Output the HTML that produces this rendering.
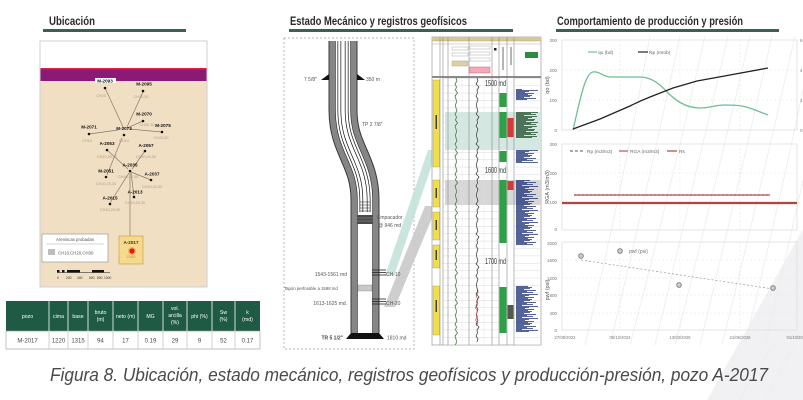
<!DOCTYPE html>
<html><head><meta charset="utf-8">
<style>
html,body{margin:0;padding:0;background:#fff;}
svg{display:block;font-family:"Liberation Sans",Arial,sans-serif;}
</style></head>
<body>
<svg width="803" height="400" viewBox="0 0 803 400" xmlns="http://www.w3.org/2000/svg">
<defs>
  <pattern id="spB" x="516" y="0" width="24" height="12" patternUnits="userSpaceOnUse">
    <path d="M0,0.5h14M0,1.5h8M0,2.5h20M0,3.5h11M0,4.5h17M0,5.5h6M0,6.5h22M0,7.5h13M0,8.5h9M0,9.5h18M0,10.5h12M0,11.5h16" stroke="#1d2f7a" stroke-width="0.7"/>
  </pattern>
  <pattern id="spG" x="516" y="0" width="24" height="10" patternUnits="userSpaceOnUse">
    <path d="M0,0.5h18M0,1.5h10M0,2.5h22M0,3.5h15M0,4.5h20M0,5.5h8M0,6.5h21M0,7.5h16M0,8.5h12M0,9.5h19" stroke="#1f4d2a" stroke-width="0.7"/>
  </pattern>
  <pattern id="grid" x="0" y="78" width="10" height="7.4" patternUnits="userSpaceOnUse">
    <line x1="0" y1="0.3" x2="10" y2="0.3" stroke="#d9d9d9" stroke-width="0.5"/>
  </pattern>
</defs>

<rect width="803" height="400" fill="#fff"/>

<!-- background decoration -->
<polygon points="707,400 803,400 803,229" fill="#f1f1f4"/>
<g stroke="#ececec" stroke-width="0.8" fill="none">
  <path d="M585,345 Q620,200 650,36"/>
  <path d="M610,345 Q645,200 680,36"/>
  <path d="M630,345 Q668,200 705,36"/>
  <path d="M655,345 Q690,200 728,36"/>
  <path d="M675,345 Q712,200 750,36"/>
  <path d="M700,345 Q735,200 772,36"/>
  <path d="M722,345 Q758,200 795,36"/>
  <path d="M745,345 Q780,200 803,90"/>
  <path d="M765,345 Q790,240 803,180"/>
  <path d="M740,400 Q760,360 775,345"/>
  <path d="M765,400 Q785,360 795,345"/>
</g>

<!-- ============ LEFT: Ubicación ============ -->
<text x="49" y="25" font-size="12" font-weight="bold" fill="#2a2a2a" textLength="46" lengthAdjust="spacingAndGlyphs">Ubicación</text>
<rect x="43" y="29" width="143" height="3" fill="#3a5f55"/>

<rect x="40" y="41" width="167" height="246" fill="#fff" stroke="#c4c4c4" stroke-width="0.8"/>
<rect x="40.5" y="68" width="166" height="1.5" fill="#d8244a"/>
<rect x="40.5" y="69.5" width="166" height="11.5" fill="#8a1a74"/>
<rect x="40.5" y="81" width="166" height="205.5" fill="#f1dfc4"/>

<!-- map lines -->
<g stroke="#857b6c" stroke-width="0.7" fill="none">
  <line x1="105" y1="88" x2="124" y2="129"/>
  <line x1="143" y1="92" x2="127" y2="127"/>
  <line x1="143" y1="121" x2="127" y2="128"/>
  <line x1="162" y1="132" x2="129" y2="129"/>
  <line x1="89" y1="134" x2="118" y2="130"/>
  <line x1="122" y1="138" x2="107" y2="175"/>
  <line x1="107" y1="150" x2="128" y2="169"/>
  <line x1="145" y1="151" x2="132" y2="169"/>
  <line x1="131" y1="172" x2="151" y2="180"/>
  <line x1="129" y1="173" x2="110" y2="203"/>
  <line x1="131" y1="173" x2="134" y2="196"/>
  <line x1="130" y1="172" x2="130" y2="236"/>
</g>
<g fill="#111">
  <circle cx="105" cy="88" r="1.3"/><circle cx="143" cy="91" r="1.3"/>
  <circle cx="143" cy="121" r="1.3"/><circle cx="162" cy="132" r="1.3"/>
  <circle cx="89" cy="134" r="1.3"/><circle cx="124" cy="135" r="1.3"/>
  <circle cx="107" cy="150" r="1.3"/><circle cx="145" cy="151" r="1.3"/>
  <circle cx="130" cy="171" r="1.3"/><circle cx="106" cy="177" r="1.3"/>
  <circle cx="151" cy="180" r="1.3"/><circle cx="134" cy="197" r="1.3"/>
  <circle cx="110" cy="204" r="1.3"/>
</g>
<g font-size="4.6" font-weight="bold" fill="#111" text-anchor="middle">
  <rect x="95" y="78" width="21" height="5" fill="#fff"/>
  <text x="105" y="82.5">M-2093</text>
  <text x="144" y="85.5">M-2095</text>
  <text x="144" y="115.5">M-2070</text>
  <text x="163" y="127">M-2075</text>
  <text x="89" y="128.5">M-2071</text>
  <text x="124" y="130">M-2073</text>
  <text x="107" y="145">A-2053</text>
  <text x="146" y="147">A-2057</text>
  <text x="130" y="166.5">A-2035</text>
  <text x="106" y="172.5">M-2051</text>
  <text x="152" y="175.5">A-2037</text>
  <text x="135" y="193.5">A-2013</text>
  <text x="110" y="199.5">A-2015</text>
</g>
<g font-size="3.8" fill="#a59a8c" text-anchor="middle">
  <text x="101" y="97">CH20</text>
  <text x="141" y="98">CH20,30</text>
  <text x="147" y="126">CH20,30</text>
  <text x="161" y="139">CH20,30</text>
  <text x="87" y="142">CH10</text>
  <text x="124" y="142">CH10</text>
  <text x="107" y="158">CH10,20,30</text>
  <text x="146" y="158">CH10,20,30</text>
  <text x="128" y="178">CH10,20,30</text>
  <text x="106" y="185">CH10,20,30</text>
  <text x="152" y="188">CH10,20,30</text>
  <text x="135" y="204">CH10,20,30</text>
  <text x="110" y="211">CH10,20,30</text>
</g>

<!-- legend box -->
<rect x="42" y="234" width="66" height="28" fill="#fff" stroke="#9a9a9a" stroke-width="0.7"/>
<text x="75" y="241" font-size="4.3" fill="#555" text-anchor="middle">Areniscas probadas</text>
<line x1="46" y1="244" x2="104" y2="244" stroke="#aaa" stroke-width="0.5"/>
<rect x="48" y="249" width="7" height="6" fill="#bdbdbd"/>
<text x="58" y="254.5" font-size="4.3" fill="#555">CH10,CH20,CH30</text>

<!-- A-2017 box -->
<rect x="119" y="236" width="24" height="28" fill="#f5d98c" stroke="#c9a24a" stroke-width="0.7"/>
<text x="131" y="244" font-size="4.6" font-weight="bold" fill="#333" text-anchor="middle">A-2017</text>
<circle cx="132" cy="251" r="4" fill="#f39a3a" opacity="0.6"/>
<circle cx="132" cy="251" r="2.6" fill="#e01818"/>
<text x="131" y="258" font-size="3.4" fill="#b08a40" text-anchor="middle">CH20</text>

<!-- scale bar -->
<g fill="#111">
  <rect x="57" y="270" width="2.5" height="2.5"/>
  <rect x="62" y="270" width="2.5" height="2.5"/>
  <rect x="67" y="270" width="13" height="2.5"/>
  <rect x="92" y="270" width="12" height="2.5"/>
</g>
<line x1="57" y1="272.5" x2="110" y2="272.5" stroke="#111" stroke-width="0.5"/>
<g font-size="3.3" fill="#333">
  <text x="57" y="279">0</text><text x="66" y="279">200</text><text x="77" y="279">400</text>
  <text x="89" y="279">600</text><text x="97" y="279">800</text><text x="104" y="279">1000</text>
</g>

<!-- table -->
<rect x="6" y="301" width="254" height="30" fill="#1e5a44"/>
<rect x="6" y="331" width="254" height="18" fill="#fff" stroke="#9a9a9a" stroke-width="0.6"/>
<g stroke="#ffffff" stroke-width="0.8">
  <line x1="49" y1="301" x2="49" y2="331"/><line x1="68" y1="301" x2="68" y2="331"/>
  <line x1="88" y1="301" x2="88" y2="331"/><line x1="113" y1="301" x2="113" y2="331"/>
  <line x1="138" y1="301" x2="138" y2="331"/><line x1="163" y1="301" x2="163" y2="331"/>
  <line x1="187" y1="301" x2="187" y2="331"/><line x1="212" y1="301" x2="212" y2="331"/>
  <line x1="235" y1="301" x2="235" y2="331"/>
</g>
<g stroke="#b5b5b5" stroke-width="0.6">
  <line x1="49" y1="331" x2="49" y2="349"/><line x1="68" y1="331" x2="68" y2="349"/>
  <line x1="88" y1="331" x2="88" y2="349"/><line x1="113" y1="331" x2="113" y2="349"/>
  <line x1="138" y1="331" x2="138" y2="349"/><line x1="163" y1="331" x2="163" y2="349"/>
  <line x1="187" y1="331" x2="187" y2="349"/><line x1="212" y1="331" x2="212" y2="349"/>
  <line x1="235" y1="331" x2="235" y2="349"/>
</g>
<g font-size="5.2" fill="#fff" text-anchor="middle">
  <text x="27.5" y="318">pozo</text>
  <text x="58.5" y="318">cima</text>
  <text x="78" y="318">base</text>
  <text x="100.5" y="314">bruto</text><text x="100.5" y="321">(m)</text>
  <text x="125.5" y="318">neto (m)</text>
  <text x="150.5" y="318">MG</text>
  <text x="175" y="310">vol.</text><text x="175" y="317">arcilla</text><text x="175" y="324">(%)</text>
  <text x="199.5" y="318">phi (%)</text>
  <text x="223.5" y="314">Sw</text><text x="223.5" y="321">(%)</text>
  <text x="247.5" y="314">k</text><text x="247.5" y="321">(md)</text>
</g>
<g font-size="6" fill="#444" text-anchor="middle">
  <text x="27.5" y="342.5">M-2017</text>
  <text x="58.5" y="342.5">1220</text>
  <text x="78" y="342.5">1315</text>
  <text x="100.5" y="342.5">94</text>
  <text x="125.5" y="342.5">17</text>
  <text x="150.5" y="342.5">0.19</text>
  <text x="175" y="342.5">29</text>
  <text x="199.5" y="342.5">9</text>
  <text x="223.5" y="342.5">52</text>
  <text x="247.5" y="342.5">0.17</text>
</g>

<!-- ============ MIDDLE: Estado mecánico ============ -->
<text x="290" y="25" font-size="12" font-weight="bold" fill="#2a2a2a" textLength="177" lengthAdjust="spacingAndGlyphs">Estado Mecánico y registros geofísicos</text>
<rect x="289" y="29" width="224" height="3" fill="#3a5f55"/>

<rect x="284" y="38" width="130" height="311" fill="#fff" stroke="#9a9a9a" stroke-width="0.7" stroke-dasharray="2,2"/>

<!-- connectors -->
<polygon points="385,276 394,276 437,150 428,150" fill="#bfe0d7" opacity="0.85"/>
<polygon points="384,307 395,307 437,206 425,206" fill="#c9c9c9" opacity="0.9"/>

<!-- casing -->
<g fill="none" stroke-linecap="butt">
  <path d="M343,41 L343,110 C343,150 365,160 365,200 L365,333" stroke="#3a3a3a" stroke-width="29"/>
  <path d="M343,41 L343,110 C343,150 365,160 365,200 L365,333" stroke="#868686" stroke-width="27"/>
  <path d="M343,41 L343,110 C343,150 365,160 365,200 L365,333" stroke="#333" stroke-width="16"/>
  <path d="M343,41 L343,110 C343,150 365,160 365,200 L365,333" stroke="#fff" stroke-width="14.6"/>
  <!-- tubing -->
  <path d="M343,41 L343,110 C343,150 365,160 365,200 L365,212" stroke="#111" stroke-width="11"/>
  <path d="M343,41 L343,110 C343,150 365,160 365,200 L365,212" stroke="#fff" stroke-width="9.6"/>
  <path d="M343,41 L343,110 C343,150 365,160 365,200 L365,212" stroke="#111" stroke-width="5"/>
  <path d="M343,41 L343,110 C343,150 365,160 365,200 L365,212" stroke="#fff" stroke-width="3.6"/>
</g>
<g stroke="#222" stroke-width="0.5">
  <line x1="360" y1="202" x2="370" y2="202"/><line x1="360" y1="205" x2="370" y2="205"/>
  <line x1="360" y1="208" x2="370" y2="208"/><line x1="360" y1="211" x2="370" y2="211"/>
</g>
<!-- packer -->
<rect x="357" y="215" width="16" height="9" fill="#4a4a4a"/>
<g stroke="#999" stroke-width="0.5"><line x1="357" y1="218" x2="373" y2="218"/><line x1="357" y1="221" x2="373" y2="221"/></g>
<!-- tapon -->
<rect x="358" y="285" width="14" height="6" fill="#c9c9c9" stroke="#888" stroke-width="0.4"/>
<!-- perforations -->
<g stroke="#222" stroke-width="0.8">
  <line x1="372" y1="270" x2="386" y2="270"/><line x1="372" y1="272.5" x2="386" y2="272.5"/><line x1="372" y1="275" x2="386" y2="275"/>
  <line x1="372" y1="299" x2="386" y2="299"/><line x1="372" y1="301.5" x2="386" y2="301.5"/><line x1="372" y1="304" x2="386" y2="304"/>
</g>
<!-- shoes -->
<polygon points="329,74 329,80 321,80" fill="#111"/>
<polygon points="357,74 357,80 365,80" fill="#111"/>
<polygon points="351,333 379,333 384,339 346,339" fill="#111"/>

<g font-size="5" fill="#555">
  <text x="304" y="81">7 5/8"</text>
  <text x="366" y="81">350 m</text>
  <text x="362" y="126">TP 2 7/8"</text>
  <text x="377" y="219">Empacador</text>
  <text x="378" y="227">@ 946 md</text>
  <text x="347" y="276" text-anchor="end">1543-1561 md</text>
  <text x="386" y="276">CH-10</text>
  <text x="284" y="290" font-size="4.3">Tapón perforable a 1598 md</text>
  <text x="347" y="305" text-anchor="end">1613-1625 md.</text>
  <text x="386" y="305">CH-20</text>
  <text x="343" y="339.5" text-anchor="end" font-weight="bold" fill="#444">TR 5 1/2"</text>
  <text x="387" y="339.5">1810 md</text>
</g>

<!-- ============ LOG PANEL ============ -->
<rect x="432" y="37" width="109" height="308" fill="#fff" stroke="#9a9a9a" stroke-width="0.7"/>
<rect x="432" y="37" width="109" height="4" fill="#d8c88e"/>
<rect x="443" y="78" width="56" height="267" fill="url(#grid)"/>
<rect x="514" y="78" width="27" height="267" fill="url(#grid)"/>
<!-- shaded zones -->
<rect x="445" y="112" width="96" height="38" fill="#cfe5de" opacity="0.9"/>
<rect x="445" y="180" width="96" height="25" fill="#d3d3d3" opacity="0.9"/>
<!-- header -->
<g stroke="#9a9a9a" stroke-width="0.4" fill="none">
  <line x1="432" y1="41" x2="541" y2="41"/><line x1="432" y1="44" x2="541" y2="44"/>
  <rect x="452" y="47" width="16" height="3"/><rect x="452" y="53" width="16" height="3"/>
  <rect x="470" y="46" width="20" height="3"/><rect x="470" y="52" width="20" height="3"/><rect x="470" y="58" width="20" height="3"/>
</g>
<rect x="452" y="61" width="16" height="5" fill="#ddd0a6" stroke="#a59872" stroke-width="0.4"/>
<rect x="469" y="67" width="21" height="6" fill="#f2aab9" stroke="#d0445e" stroke-width="0.4"/>
<rect x="525" y="52" width="13" height="6" fill="#2e8b3e"/>
<rect x="494" y="48" width="2.5" height="2.5" fill="#222"/>
<line x1="503" y1="47" x2="503" y2="70" stroke="#444" stroke-width="0.8"/>
<line x1="511" y1="47" x2="511" y2="65" stroke="#444" stroke-width="0.8"/>
<rect x="432" y="76" width="109" height="2" fill="#8a8a8a"/>
<!-- column separators -->
<g stroke="#8a8a8a" stroke-width="0.6">
  <line x1="440" y1="37" x2="440" y2="345"/><line x1="443" y1="37" x2="443" y2="345"/>
  <line x1="448" y1="37" x2="448" y2="345"/><line x1="469" y1="37" x2="469" y2="345"/>
  <line x1="492" y1="37" x2="492" y2="345"/><line x1="499" y1="37" x2="499" y2="345"/>
  <line x1="507" y1="37" x2="507" y2="345"/><line x1="514" y1="37" x2="514" y2="345"/>
</g>
<g stroke="#e2e2e2" stroke-width="0.4">
  <line x1="455" y1="78" x2="455" y2="345"/><line x1="462" y1="78" x2="462" y2="345"/>
  <line x1="476" y1="78" x2="476" y2="345"/><line x1="484" y1="78" x2="484" y2="345"/>
</g>
<!-- lithology track -->
<g fill="#f1de4a" stroke="#a89a30" stroke-width="0.4">
  <rect x="433" y="80" width="6.5" height="87"/>
  <rect x="433" y="180" width="6.5" height="27"/>
  <rect x="433" y="212" width="6.5" height="28"/>
  <rect x="433" y="245" width="6.5" height="23"/>
  <rect x="433" y="286" width="6.5" height="49"/>
</g>
<g fill="#444"><rect x="435.5" y="115" width="1.5" height="14"/><rect x="435.5" y="188" width="1.5" height="10"/>
<rect x="435.5" y="220" width="1.5" height="10"/><rect x="435.5" y="250" width="1.5" height="10"/><rect x="435.5" y="300" width="1.5" height="12"/></g>
<!-- curves -->
<path d="M456,78 l1,3 -2,3 1.5,3 -1,3 2,3 -2.5,3 1,3 0.5,3 -1,3 0.5,3 l1,3 -2,3 1.5,3 -1,3 2,3 -2.5,3 1,3 0.5,3 -1,3 0.5,3 l1,3 -2,3 1.5,3 -1,3 2,3 -2.5,3 1,3 0.5,3 -1,3 0.5,3 l1,3 -2,3 1.5,3 -1,3 2,3 -2.5,3 1,3 0.5,3 -1,3 0.5,3 l1,3 -2,3 1.5,3 -1,3 2,3 -2.5,3 1,3 0.5,3 -1,3 0.5,3 l1,3 -2,3 1.5,3 -1,3 2,3 -2.5,3 1,3 0.5,3 -1,3 0.5,3 l1,3 -2,3 1.5,3 -1,3 2,3 -2.5,3 1,3 0.5,3 -1,3 0.5,3 l1,3 -2,3 1.5,3 -1,3 2,3 -2.5,3 1,3 0.5,3 -1,3 0.5,3 l1,3 -2,3 1.5,3 -1,3 2,3 -2.5,3 1,3 0.5,3 -1,3" fill="none" stroke="#2c6e2c" stroke-width="0.7"/>
<path d="M477,78 l1,3 -2,3 3,3 -2,3 0.5,3 -1.5,3 2,3 -1,3 -0.5,3 0.5,3 l1,3 -2,3 3,3 -2,3 0.5,3 -1.5,3 2,3 -1,3 -0.5,3 0.5,3 l1,3 -2,3 3,3 -2,3 0.5,3 -1.5,3 2,3 -1,3 -0.5,3 0.5,3 l1,3 -2,3 3,3 -2,3 0.5,3 -1.5,3 2,3 -1,3 -0.5,3 0.5,3 l1,3 -2,3 3,3 -2,3 0.5,3 -1.5,3 2,3 -1,3 -0.5,3 0.5,3 l1,3 -2,3 3,3 -2,3 0.5,3 -1.5,3 2,3 -1,3 -0.5,3 0.5,3 l1,3 -2,3 3,3 -2,3 0.5,3 -1.5,3 2,3 -1,3 -0.5,3 0.5,3 l1,3 -2,3 3,3 -2,3 0.5,3 -1.5,3 2,3 -1,3 -0.5,3 0.5,3 l1,3 -2,3 3,3 -2,3 0.5,3 -1.5,3 2,3 -1,3" fill="none" stroke="#333" stroke-width="0.7"/>
<path d="M477,290 l1,3 -2,3 2,3 -1.5,3 1,3 -2,3 2,3 -1,3 1,3 -2,3 2,3 -1,3" fill="none" stroke="#c03030" stroke-width="0.6"/>
<!-- perforation track -->
<g fill="#2ea046">
  <rect x="499.5" y="93" width="7" height="14"/>
  <rect x="499.5" y="112" width="7" height="26"/>
  <rect x="499.5" y="151" width="7" height="11"/>
  <rect x="499.5" y="180" width="7" height="63"/>
  <rect x="499.5" y="287" width="7" height="46"/>
</g>
<g fill="#d23a3a">
  <rect x="507.5" y="118" width="6" height="19"/>
  <rect x="507.5" y="181" width="6" height="9"/>
</g>
<rect x="507.5" y="305" width="6" height="14" fill="#555"/>
<!-- spikes -->
<rect x="516" y="89" width="24" height="11" fill="url(#spB)"/>
<rect x="516" y="112" width="24" height="26" fill="url(#spG)"/>
<rect x="516" y="150" width="24" height="13" fill="url(#spB)"/>
<rect x="516" y="180" width="24" height="65" fill="url(#spB)"/>
<rect x="516" y="286" width="24" height="46" fill="url(#spB)"/>
<!-- depth labels -->
<g font-size="8" fill="#333">
  <text x="485" y="86" textLength="21" lengthAdjust="spacingAndGlyphs">1500 md</text>
  <text x="485" y="173" textLength="21" lengthAdjust="spacingAndGlyphs">1600 md</text>
  <text x="485" y="264" textLength="21" lengthAdjust="spacingAndGlyphs">1700 md</text>
</g>
<rect x="483" y="78" width="0" height="0"/>

<!-- ============ RIGHT: charts ============ -->
<text x="557" y="25" font-size="12" font-weight="bold" fill="#2a2a2a" textLength="186" lengthAdjust="spacingAndGlyphs">Comportamiento de producción y presión</text>
<rect x="556" y="29" width="223" height="3" fill="#3a5f55"/>

<!-- chart 1 -->
<rect x="562" y="40" width="235" height="90" fill="none" stroke="#dcdcdc" stroke-width="0.7"/>
<g stroke="#e6e6e6" stroke-width="0.6" stroke-dasharray="2,2">
  <line x1="562" y1="70" x2="797" y2="70"/><line x1="562" y1="100" x2="797" y2="100"/>
  <line x1="620" y1="40" x2="620" y2="130"/><line x1="680" y1="40" x2="680" y2="130"/><line x1="740" y1="40" x2="740" y2="130"/>
</g>
<g font-size="4.5" fill="#777" text-anchor="end">
  <text x="557" y="42">300</text><text x="557" y="72">200</text><text x="557" y="102">100</text><text x="557" y="132">0</text>
</g>
<g font-size="4.5" fill="#777">
  <text x="800" y="42">6</text><text x="800" y="72">4</text><text x="800" y="102">2</text><text x="800" y="132">0</text>
</g>
<text transform="translate(549,85) rotate(-90)" font-size="5.5" fill="#555" text-anchor="middle">qo (bd)</text>
<line x1="588" y1="52" x2="597" y2="52" stroke="#6cbf95" stroke-width="1.2"/>
<text x="598" y="54" font-size="4.8" fill="#666">qo (bd)</text>
<line x1="638" y1="52" x2="648" y2="52" stroke="#222" stroke-width="1.2"/>
<text x="649" y="54" font-size="4.8" fill="#666">Np (mmb)</text>
<path d="M573,130 C580,100 585,73 593,72 C600,71 603,77 610,77 L640,77 C650,77 658,82 666,91 C676,101 686,108 700,108 C710,108 715,105 725,105 C740,105 745,106 755,110 L768,115" fill="none" stroke="#6cbf95" stroke-width="1.3"/>
<path d="M573,129 L600,119 L630,106 Q640,101 650,97 L673,88 L697,81 L730,75 L768,68" fill="none" stroke="#222" stroke-width="1.3"/>

<!-- chart 2 -->
<rect x="562" y="144" width="235" height="86" fill="none" stroke="#dcdcdc" stroke-width="0.7"/>
<g stroke="#e6e6e6" stroke-width="0.6" stroke-dasharray="2,2">
  <line x1="562" y1="173" x2="797" y2="173"/><line x1="562" y1="202" x2="797" y2="202"/>
  <line x1="620" y1="144" x2="620" y2="230"/><line x1="680" y1="144" x2="680" y2="230"/><line x1="740" y1="144" x2="740" y2="230"/>
</g>
<g font-size="4.5" fill="#777" text-anchor="end">
  <text x="557" y="146">300</text><text x="557" y="175">200</text><text x="557" y="204">100</text><text x="557" y="231">0</text>
</g>
<text transform="translate(549,187) rotate(-90)" font-size="5.5" fill="#555" text-anchor="middle">RGA (m3/m3)</text>
<line x1="570" y1="151" x2="585" y2="151" stroke="#555" stroke-width="1" stroke-dasharray="3,2"/>
<text x="587" y="153" font-size="4.8" fill="#666">Rp (m3/m3)</text>
<line x1="619" y1="151" x2="628" y2="151" stroke="#c0504d" stroke-width="1.2"/>
<text x="630" y="153" font-size="4.8" fill="#666">RGA (m3/m3)</text>
<line x1="667" y1="151" x2="677" y2="151" stroke="#b9413e" stroke-width="1.2"/>
<text x="679" y="153" font-size="4.8" fill="#666">Rs</text>
<line x1="574" y1="195" x2="770" y2="195" stroke="#d06a66" stroke-width="1.4"/>
<line x1="574" y1="195" x2="770" y2="195" stroke="#555" stroke-width="0.7" stroke-dasharray="2,2"/>
<line x1="562" y1="203" x2="797" y2="203" stroke="#b9413e" stroke-width="2.2"/>

<!-- chart 3 -->
<rect x="562" y="242" width="235" height="88" fill="none" stroke="#dcdcdc" stroke-width="0.7"/>
<g stroke="#e6e6e6" stroke-width="0.6" stroke-dasharray="2,2">
  <line x1="562" y1="260" x2="797" y2="260"/><line x1="562" y1="278" x2="797" y2="278"/>
  <line x1="562" y1="295" x2="797" y2="295"/><line x1="562" y1="313" x2="797" y2="313"/>
  <line x1="620" y1="242" x2="620" y2="330"/><line x1="680" y1="242" x2="680" y2="330"/><line x1="740" y1="242" x2="740" y2="330"/>
</g>
<g font-size="4.5" fill="#777" text-anchor="end">
  <text x="557" y="245">2000</text><text x="557" y="262">1600</text><text x="557" y="280">1200</text>
  <text x="557" y="297">800</text><text x="557" y="315">400</text><text x="557" y="332">0</text>
</g>
<text transform="translate(549,290) rotate(-90)" font-size="5.5" fill="#555" text-anchor="middle">pwf (psi)</text>
<g font-size="4.2" fill="#777" text-anchor="middle">
  <text x="565" y="339">27/08/2022</text><text x="620" y="339">05/12/2023</text>
  <text x="680" y="339">13/03/2025</text><text x="740" y="339">21/06/2026</text><text x="797" y="339">01/10/2027</text>
</g>
<line x1="581" y1="260" x2="773" y2="289" stroke="#9a9a9a" stroke-width="0.7" stroke-dasharray="2,2"/>
<g fill="#cfcfcf" stroke="#777" stroke-width="0.9">
  <circle cx="581" cy="256" r="2.3"/><circle cx="620" cy="251" r="2.3"/>
  <circle cx="679" cy="285" r="2.3"/><circle cx="773" cy="288" r="2.3"/>
</g>
<text x="629" y="253" font-size="5" fill="#777">pwf (psi)</text>

<!-- caption -->
<text x="50" y="381" font-size="18" font-style="italic" fill="#4a4a4a" textLength="718" lengthAdjust="spacingAndGlyphs">Figura 8. Ubicación, estado mecánico, registros geofísicos y producción-presión, pozo A-2017</text>
</svg>
</body></html>
